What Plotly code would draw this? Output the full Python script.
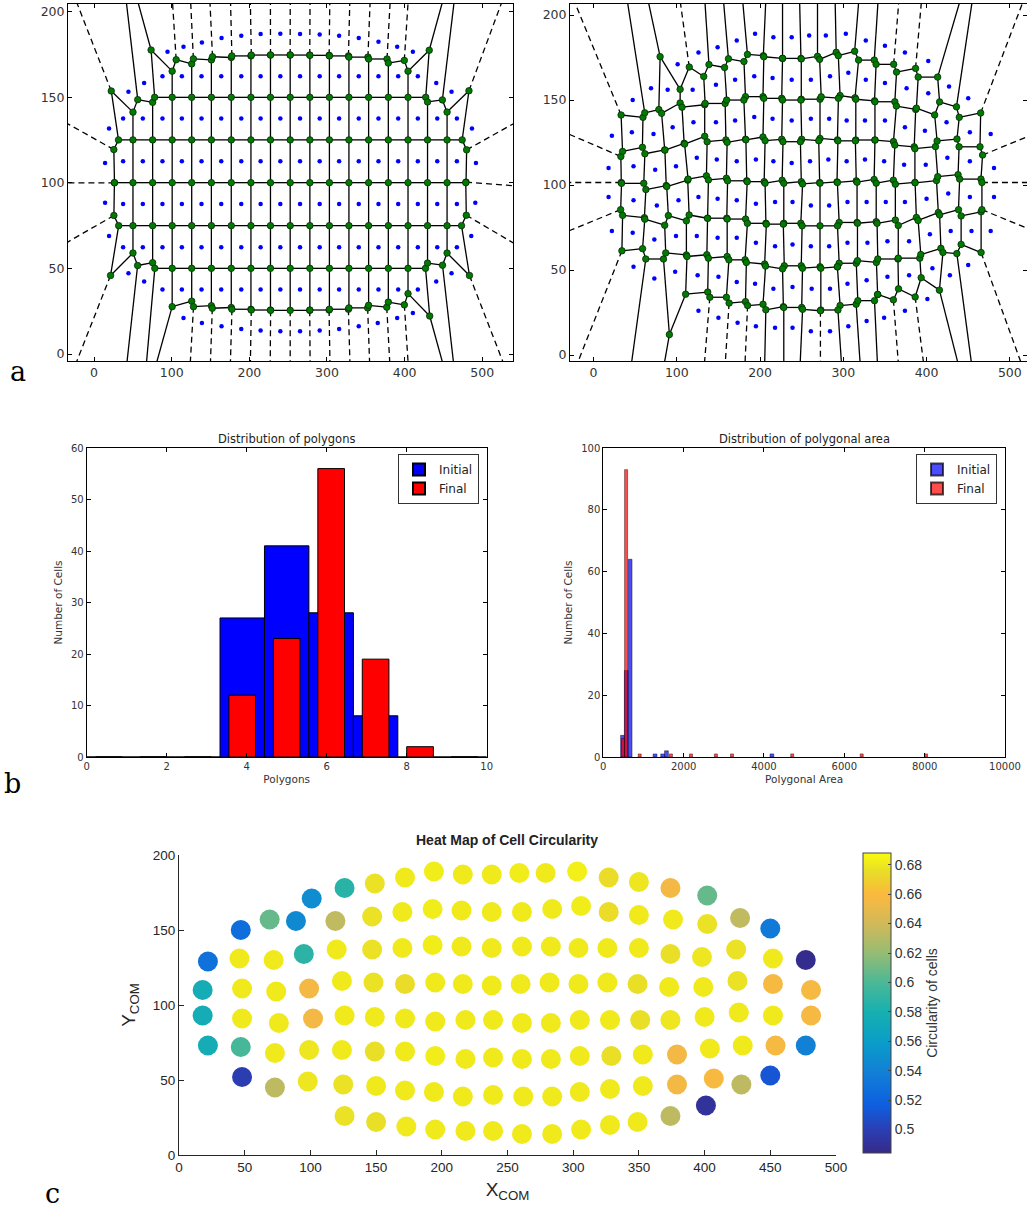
import numpy as np
import plotly.graph_objects as go

# ------------------------------------------------------------------ data
# panel a (left): initial cell centres, read row by row
init_x = [
    94.6, 115.2, 138.9, 164.2, 189.6, 214.5, 239.9, 265.3, 290.6, 315.6, 340.9, 366.3, 390.4, 410.6,
    64.5, 88.1, 113.1, 138.4, 163.8, 189.6, 214.5, 239.9, 265.3, 290.6, 315.6, 340.9, 366.3, 391.7, 417.0, 440.7,
    44.3, 460.4,
    19.3, 37.4, 62.8, 88.1, 113.1, 138.4, 163.8, 189.6, 214.5, 239.9, 265.3, 290.6, 315.6, 340.9, 366.3, 391.7, 417.0, 442.0, 467.3, 486.7,
    14.2, 37.4, 62.8, 88.1, 113.1, 138.4, 163.8, 189.6, 214.5, 239.9, 265.3, 290.6, 315.6, 340.9, 366.3, 391.7, 417.0, 442.0, 467.3, 491.8,
    14.2, 37.4, 62.8, 88.1, 113.1, 138.4, 163.8, 189.6, 214.5, 239.9, 265.3, 290.6, 315.6, 340.9, 366.3, 391.7, 417.0, 442.0, 467.3, 491.0,
    19.3, 37.4, 62.8, 88.1, 113.1, 138.4, 163.8, 189.6, 214.5, 239.9, 265.3, 290.6, 315.6, 340.9, 366.3, 391.7, 417.0, 442.0, 467.3, 485.8,
    44.3, 64.5, 88.1, 113.1, 138.4, 163.8, 189.6, 214.5, 239.9, 265.3, 290.6, 315.6, 340.9, 366.3, 391.7, 417.0, 440.7, 460.4,
    115.2, 138.9, 164.2, 189.6, 214.5, 239.9, 265.3, 290.6, 315.6, 340.9, 365.4, 390.4, 410.6,
]
init_y = [
    176.6, 179.5, 182.0, 184.6, 186.0, 187.0, 187.1, 187.0, 186.7, 186.0, 184.6, 182.4, 179.5, 176.6,
    158.4, 162.3, 162.3, 162.3, 162.3, 162.3, 162.3, 162.3, 162.3, 162.3, 162.3, 162.3, 162.3, 162.3, 162.3, 158.4,
    153.2, 153.2,
    131.7, 137.6, 137.6, 137.6, 137.6, 137.6, 137.6, 137.6, 137.6, 137.6, 137.6, 137.6, 137.6, 137.6, 137.6, 137.6, 137.6, 137.6, 137.6, 131.7,
    111.6, 112.6, 112.6, 112.6, 112.6, 112.6, 112.6, 112.6, 112.6, 112.6, 112.6, 112.6, 112.6, 112.6, 112.6, 112.6, 112.6, 112.6, 112.6, 111.6,
    88.4, 87.6, 87.6, 87.6, 87.6, 87.6, 87.6, 87.6, 87.6, 87.6, 87.6, 87.6, 87.6, 87.6, 87.6, 87.6, 87.6, 87.6, 87.6, 88.4,
    68.9, 62.4, 62.4, 62.4, 62.4, 62.4, 62.4, 62.4, 62.4, 62.4, 62.4, 62.4, 62.4, 62.4, 62.4, 62.4, 62.4, 62.4, 62.4, 68.9,
    47.2, 42.3, 37.7, 37.7, 37.7, 37.7, 37.7, 37.7, 37.7, 37.7, 37.7, 37.7, 37.7, 37.7, 37.7, 37.7, 42.3, 47.2,
    21.1, 18.1, 16.2, 14.6, 13.7, 13.3, 13.3, 13.7, 14.6, 16.2, 18.1, 21.1, 24.0,
]

# panel a (right) and panel c: final cell centres (X_COM, Y_COM) and circularity
final_x = [
    101, 126, 149, 172, 194, 216, 238, 259, 279, 303, 327, 350, 374, 402,
    47, 69, 89, 119, 147, 170, 193, 215, 238, 261, 284, 306, 327, 350, 376, 402, 427, 450,
    22, 46, 72, 95, 120, 147, 170, 193, 215, 238, 261, 283, 304, 326, 350, 374, 398, 424, 452, 477,
    18, 48, 74, 99, 124, 148, 172, 195, 216, 238, 260, 282, 304, 326, 349, 373, 399, 425, 452, 481,
    18, 48, 76, 102, 126, 149, 172, 195, 218, 239, 261, 283, 305, 328, 351, 374, 400, 426, 452, 481,
    22, 47, 73, 99, 124, 149, 172, 195, 218, 239, 261, 283, 305, 329, 353, 379, 404, 429, 454, 477,
    48, 73, 98, 125, 150, 172, 194, 216, 239, 262, 284, 305, 328, 353, 379, 407, 428, 450,
    126, 150, 173, 195, 218, 239, 261, 284, 306, 328, 349, 374, 401,
]
final_y = [
    171, 178, 181, 185, 189, 187, 187, 188, 188, 189, 185, 182, 178, 173,
    150, 157, 156, 156, 159, 162, 164, 163, 162, 162, 164, 166, 162, 160, 157, 154, 158, 151,
    129, 131, 130, 134, 137, 137, 138, 140, 139, 138, 139, 139, 138, 138, 138, 134, 132, 137, 131, 130,
    110, 111, 109, 111, 116, 115, 114, 115, 114, 113, 114, 115, 114, 115, 114, 112, 112, 116, 114, 110,
    93, 91, 88, 91, 93, 92, 91, 89, 90, 90, 88, 88, 90, 90, 90, 90, 92, 95, 93, 93,
    73, 72, 68, 70, 70, 69, 69, 66, 64, 65, 64, 64, 66, 66, 67, 67, 71, 73, 73, 73,
    52, 45, 49, 47, 46, 43, 42, 39, 40, 39, 39, 42, 44, 46, 47, 51, 47, 53,
    26, 22, 19, 17, 16, 16, 14, 14, 17, 20, 22, 26, 33,
]
circularity = [
    0.548, 0.587, 0.677, 0.681, 0.682, 0.681, 0.681, 0.682, 0.681, 0.683, 0.675, 0.679, 0.656, 0.607,
    0.527, 0.607, 0.546, 0.634, 0.677, 0.681, 0.682, 0.681, 0.681, 0.681, 0.681, 0.682, 0.675, 0.681, 0.681, 0.677, 0.634, 0.535,
    0.529, 0.681, 0.681, 0.588, 0.681, 0.677, 0.681, 0.682, 0.681, 0.681, 0.681, 0.681, 0.681, 0.681, 0.681, 0.676, 0.679, 0.677, 0.681, 0.486,
    0.576, 0.681, 0.681, 0.656, 0.681, 0.677, 0.675, 0.681, 0.681, 0.681, 0.681, 0.681, 0.681, 0.681, 0.676, 0.681, 0.681, 0.677, 0.657, 0.657,
    0.576, 0.681, 0.681, 0.656, 0.681, 0.681, 0.681, 0.681, 0.681, 0.681, 0.681, 0.681, 0.681, 0.681, 0.676, 0.679, 0.681, 0.681, 0.681, 0.657,
    0.576, 0.598, 0.681, 0.679, 0.681, 0.676, 0.681, 0.682, 0.681, 0.681, 0.681, 0.681, 0.681, 0.676, 0.681, 0.656, 0.681, 0.681, 0.657, 0.540,
    0.499, 0.633, 0.679, 0.677, 0.681, 0.681, 0.681, 0.681, 0.681, 0.681, 0.681, 0.681, 0.681, 0.681, 0.656, 0.658, 0.633, 0.512,
    0.677, 0.676, 0.681, 0.681, 0.681, 0.681, 0.681, 0.681, 0.681, 0.681, 0.681, 0.633, 0.491,
]

# panel b (left): histogram of polygon classes
poly_bin_left = [0.0, 1.111, 2.222, 3.333, 4.444, 5.556, 6.667, 7.778, 8.889]
poly_bin_width = 1.111
poly_initial = [0, 0, 0, 27, 41, 28, 8, 0, 0]
poly_final = [0, 0, 0, 12, 23, 56, 19, 2, 0]

# panel b (right): histogram of polygonal area
area_init_left = [430, 525, 620, 1240, 1430, 1525, 4150]
area_init_width = 95
area_init_count = [7, 28, 64, 1, 1, 2, 1]
area_final_left = [454, 530, 868, 1645, 2145, 2765, 3165, 4665, 6395, 7995]
area_final_width = 76
area_final_count = [6, 93, 1, 1, 1, 1, 1, 1, 1, 1]

# colour bar
c_ticks = [0.5, 0.52, 0.54, 0.56, 0.58, 0.6, 0.62, 0.64, 0.66, 0.68]
c_range = [0.484, 0.688]

# ------------------------------------------------------------------ voronoi
BIG = 1e6


def voronoi_cells(px, py):
    pts = np.column_stack([px, py]).astype(float)
    n = len(pts)
    cells = []
    for i in range(n):
        poly = [(-BIG, -BIG), (BIG, -BIG), (BIG, BIG), (-BIG, BIG)]
        labs = [-1, -1, -1, -1]
        order = np.argsort(((pts - pts[i]) ** 2).sum(1))
        for j in order:
            if j == i:
                continue
            a = pts[j] - pts[i]
            m = (pts[j] + pts[i]) / 2.0
            b = a[0] * m[0] + a[1] * m[1]
            d = [a[0] * v[0] + a[1] * v[1] - b for v in poly]
            if max(d) <= 1e-9:
                continue
            nv, nl = [], []
            k = len(poly)
            for t in range(k):
                P = poly[t]
                Q = poly[(t + 1) % k]
                dP = d[t]
                dQ = d[(t + 1) % k]
                if dP <= 0:
                    nv.append(P)
                    nl.append(labs[t])
                    if dQ > 0:
                        s = dP / (dP - dQ)
                        nv.append((P[0] + s * (Q[0] - P[0]), P[1] + s * (Q[1] - P[1])))
                        nl.append(int(j))
                else:
                    if dQ <= 0:
                        s = dP / (dP - dQ)
                        nv.append((P[0] + s * (Q[0] - P[0]), P[1] + s * (Q[1] - P[1])))
                        nl.append(labs[t])
            poly, labs = nv, nl
        cells.append((poly, labs))
    return cells


def voronoi_geometry(px, py):
    cells = voronoi_cells(px, py)
    sx, sy, dx, dy = [], [], [], []
    verts = {}
    for i, (poly, labs) in enumerate(cells):
        k = len(poly)
        for t in range(k):
            P = poly[t]
            Q = poly[(t + 1) % k]
            j = labs[t]
            Pinf = labs[t - 1] == -1
            Qinf = labs[(t + 1) % k] == -1
            if labs[t - 1] != -1 and labs[t] != -1:
                verts[(round(P[0], 2), round(P[1], 2))] = P
            if j < 0 or j < i:
                continue
            if np.hypot(Q[0] - P[0], Q[1] - P[1]) < 1e-6:
                continue
            if not Pinf and not Qinf:
                sx += [P[0], Q[0], None]
                sy += [P[1], Q[1], None]
            elif Pinf != Qinf:
                F, G = (Q, P) if Pinf else (P, Q)
                vx, vy = G[0] - F[0], G[1] - F[1]
                L = np.hypot(vx, vy)
                dx += [F[0], F[0] + vx / L * 1500, None]
                dy += [F[1], F[1] + vy / L * 1500, None]
    vx = [v[0] for v in verts.values()]
    vy = [v[1] for v in verts.values()]
    return sx, sy, dx, dy, vx, vy


def padded_range(vals):
    lo, hi = min(vals), max(vals)
    m = 0.1 * (hi - lo)
    return [lo - m, hi + m]


fig = go.Figure()

W, H = 1027, 1212
DEJAVU = "DejaVu Sans"
HELV = "Liberation Sans, Arial"

for k, (px, py) in enumerate([(init_x, init_y), (final_x, final_y)], start=1):
    sx, sy, dx, dy, vx, vy = voronoi_geometry(px, py)
    xa = "x" if k == 1 else "x2"
    ya = "y" if k == 1 else "y2"
    fig.add_trace(go.Scatter(x=dx, y=dy, mode="lines", xaxis=xa, yaxis=ya,
                             line=dict(color="black", width=1.3, dash="6px,4px"),
                             showlegend=False, hoverinfo="skip"))
    fig.add_trace(go.Scatter(x=sx, y=sy, mode="lines", xaxis=xa, yaxis=ya,
                             line=dict(color="black", width=1.3),
                             showlegend=False, hoverinfo="skip"))
    fig.add_trace(go.Scatter(x=vx, y=vy, mode="markers", xaxis=xa, yaxis=ya,
                             marker=dict(color="#007a00", size=6.5,
                                         line=dict(color="#0a2a0a", width=0.8)),
                             showlegend=False, hoverinfo="skip"))
    fig.add_trace(go.Scatter(x=px, y=py, mode="markers", xaxis=xa, yaxis=ya,
                             marker=dict(color="#0000ff", size=4.5),
                             showlegend=False))

# panel b left
fig.add_trace(go.Bar(x=poly_bin_left, y=poly_initial, width=poly_bin_width, offset=0,
                     marker=dict(color="#0000ff", line=dict(color="black", width=1)),
                     name="Initial", xaxis="x3", yaxis="y3", legend="legend"))
fig.add_trace(go.Bar(x=poly_bin_left, y=poly_final, width=poly_bin_width * 0.6,
                     offset=poly_bin_width * 0.2,
                     marker=dict(color="#ff0000", line=dict(color="black", width=1)),
                     name="Final", xaxis="x3", yaxis="y3", legend="legend"))
# panel b right
fig.add_trace(go.Bar(x=area_init_left, y=area_init_count, width=area_init_width, offset=0,
                     marker=dict(color="rgba(0,0,255,0.7)", line=dict(color="rgba(0,0,0,0.7)", width=0.6)),
                     name="Initial", xaxis="x4", yaxis="y4", legend="legend2"))
fig.add_trace(go.Bar(x=area_final_left, y=area_final_count, width=area_final_width, offset=0,
                     marker=dict(color="rgba(255,0,0,0.7)", line=dict(color="rgba(0,0,0,0.7)", width=0.6)),
                     name="Final", xaxis="x4", yaxis="y4", legend="legend2"))

# panel c
parula = [
    [0.00, "#352a87"], [0.08, "#2b3fb5"], [0.16, "#0d5fe0"], [0.27, "#1280d6"],
    [0.37, "#0a9dc8"], [0.47, "#17b0b0"], [0.57, "#4cb896"], [0.67, "#98bc72"],
    [0.76, "#cfb95a"], [0.86, "#fbb93f"], [0.90, "#f1cb30"], [0.94, "#e9de28"],
    [1.00, "#f9fb0e"],
]
fig.add_trace(go.Scatter(
    x=final_x, y=final_y, mode="markers", xaxis="x5", yaxis="y5", showlegend=False,
    marker=dict(size=20, color=circularity, colorscale=parula, cmin=c_range[0], cmax=c_range[1],
                line=dict(width=0),
                colorbar=dict(x=863 / W, xanchor="left", xpad=0, y=1 - 1003 / H, yanchor="middle",
                              ypad=0, len=300, lenmode="pixels", thickness=28,
                              thicknessmode="pixels", outlinecolor="#444", outlinewidth=1,
                              tickvals=c_ticks, ticks="inside", ticklen=3, tickcolor="#444",
                              tickfont=dict(family=HELV, size=14, color="#333"),
                              title=dict(text="Circularity of cells", side="right",
                                         font=dict(family=HELV, size=14, color="#333"))))))

# ------------------------------------------------------------------ axes


def px_dom_x(a, b):
    return [a / W, b / W]


def px_dom_y(top, bot):
    return [1 - bot / H, 1 - top / H]


mpl_axis = dict(showline=True, linecolor="black", linewidth=1, mirror="ticks", ticks="inside",
                ticklen=4, tickcolor="black", showgrid=False, zeroline=False, automargin=False)

xr1 = padded_range(init_x)
yr1 = padded_range(init_y)
xr2 = padded_range(final_x)
xr2 = [xr2[0], xr2[0] + (xr2[1] - xr2[0]) * 0.988]
yr2 = padded_range(final_y)

tick_a = dict(family=DEJAVU, size=12.5, color="#333")
tick_b = dict(family=DEJAVU, size=10, color="#333")
lab_b = dict(family=DEJAVU, size=10.5, color="#333")

matlab_axis = dict(showline=True, linecolor="#262626", linewidth=1, ticks="inside", ticklen=5,
                   tickcolor="#262626", showgrid=False, zeroline=False, automargin=False,
                   tickfont=dict(family=HELV, size=13.5, color="#262626"))

fig.update_layout(
    width=W, height=H, margin=dict(l=0, r=0, t=0, b=0, autoexpand=False),
    paper_bgcolor="white", plot_bgcolor="white", barmode="overlay",
    xaxis=dict(domain=px_dom_x(68, 513), range=xr1, anchor="y", dtick=100, tick0=0,
               tickfont=tick_a, **mpl_axis),
    yaxis=dict(domain=px_dom_y(4, 361), range=yr1, anchor="x", dtick=50, tick0=0,
               tickfont=tick_a, **mpl_axis),
    xaxis2=dict(domain=px_dom_x(570, 1027), range=xr2, anchor="y2", dtick=100, tick0=0,
                tickfont=tick_a, **mpl_axis),
    yaxis2=dict(domain=px_dom_y(4, 361), range=yr2, anchor="x2", dtick=50, tick0=0,
                tickfont=tick_a, **mpl_axis),
    xaxis3=dict(domain=px_dom_x(86.7, 486.7), range=[0, 10], anchor="y3", dtick=2,
                tickfont=tick_b, title=dict(text="Polygons", font=lab_b, standoff=4),
                **mpl_axis),
    yaxis3=dict(domain=px_dom_y(448, 757), range=[0, 60], anchor="x3", dtick=10,
                tickfont=tick_b, title=dict(text="Number of Cells", font=lab_b, standoff=6),
                **mpl_axis),
    xaxis4=dict(domain=px_dom_x(603.3, 1005), range=[0, 10000], anchor="y4", dtick=2000,
                tickformat="d",
                tickfont=tick_b, title=dict(text="Polygonal Area", font=lab_b, standoff=4),
                **mpl_axis),
    yaxis4=dict(domain=px_dom_y(448, 757), range=[0, 100], anchor="x4", dtick=20,
                tickfont=tick_b, title=dict(text="Number of Cells", font=lab_b, standoff=6),
                **mpl_axis),
    xaxis5=dict(domain=px_dom_x(179, 836), range=[0, 500], anchor="y5", dtick=50, tick0=0,
                title=dict(text="X<sub>COM</sub>", font=dict(family=HELV, size=19, color="#262626"), standoff=8),
                **matlab_axis),
    yaxis5=dict(domain=px_dom_y(855, 1155), range=[0, 200], anchor="x5", dtick=50, tick0=0,
                title=dict(text="Y<sub>COM</sub>", font=dict(family=HELV, size=19, color="#262626"), standoff=12),
                **matlab_axis),
    legend=dict(x=398 / W, y=1 - 454 / H, xanchor="left", yanchor="top", bgcolor="white",
                bordercolor="#333", borderwidth=1, font=dict(family=DEJAVU, size=12, color="#222"),
                tracegroupgap=0, itemsizing="constant"),
    legend2=dict(x=916 / W, y=1 - 454 / H, xanchor="left", yanchor="top", bgcolor="white",
                 bordercolor="#333", borderwidth=1, font=dict(family=DEJAVU, size=12, color="#222"),
                 tracegroupgap=0, itemsizing="constant"),
)

serif = dict(family="DejaVu Serif, Liberation Serif", size=27, color="black")
annots = [
    dict(text="a", x=18 / W, y=1 - 371 / H, font=serif),
    dict(text="b", x=12 / W, y=1 - 784 / H, font=serif),
    dict(text="c", x=52 / W, y=1 - 1193 / H, font=serif),
    dict(text="Distribution of polygons", x=286.7 / W, y=1 - 439 / H,
         font=dict(family=DEJAVU, size=11.5, color="#222")),
    dict(text="Distribution of polygonal area", x=804 / W, y=1 - 439 / H,
         font=dict(family=DEJAVU, size=11.5, color="#222")),
    dict(text="<b>Heat Map of Cell Circularity</b>", x=507 / W, y=1 - 840 / H,
         font=dict(family=HELV, size=14, color="#222")),
]
for a in annots:
    fig.add_annotation(xref="paper", yref="paper", showarrow=False, xanchor="center",
                       yanchor="middle", **a)

fig.write_html("out.html", config={"displayModeBar": False},
               post_script="document.body.style.margin='0';document.body.style.padding='0';"
                           "document.documentElement.style.overflow='hidden';")
